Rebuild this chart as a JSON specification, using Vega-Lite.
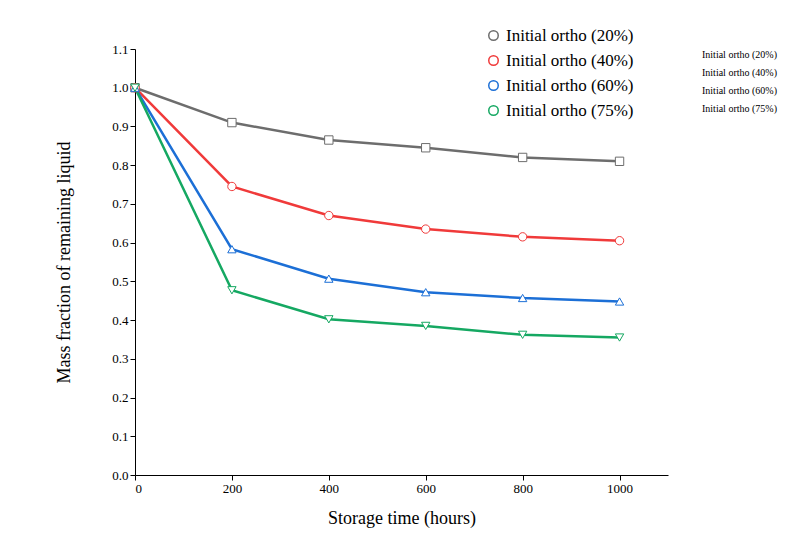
{
  "$schema": "https://vega.github.io/schema/vega-lite/v6.json",
  "width": 533,
  "height": 426,
  "autosize": "none",
  "padding": {"left": 135, "top": 49, "right": 135, "bottom": 80},
  "background": "white",
  "data": {"values": [
    {"t": 0, "s": "Initial ortho (20%)", "v": 1.0},
    {"t": 200, "s": "Initial ortho (20%)", "v": 0.91},
    {"t": 400, "s": "Initial ortho (20%)", "v": 0.865},
    {"t": 600, "s": "Initial ortho (20%)", "v": 0.845},
    {"t": 800, "s": "Initial ortho (20%)", "v": 0.82},
    {"t": 1000, "s": "Initial ortho (20%)", "v": 0.81},
    {"t": 0, "s": "Initial ortho (40%)", "v": 1.0},
    {"t": 200, "s": "Initial ortho (40%)", "v": 0.745},
    {"t": 400, "s": "Initial ortho (40%)", "v": 0.67},
    {"t": 600, "s": "Initial ortho (40%)", "v": 0.635},
    {"t": 800, "s": "Initial ortho (40%)", "v": 0.615},
    {"t": 1000, "s": "Initial ortho (40%)", "v": 0.605},
    {"t": 0, "s": "Initial ortho (60%)", "v": 1.0},
    {"t": 200, "s": "Initial ortho (60%)", "v": 0.583},
    {"t": 400, "s": "Initial ortho (60%)", "v": 0.507},
    {"t": 600, "s": "Initial ortho (60%)", "v": 0.472},
    {"t": 800, "s": "Initial ortho (60%)", "v": 0.457},
    {"t": 1000, "s": "Initial ortho (60%)", "v": 0.448},
    {"t": 0, "s": "Initial ortho (75%)", "v": 1.0},
    {"t": 200, "s": "Initial ortho (75%)", "v": 0.477},
    {"t": 400, "s": "Initial ortho (75%)", "v": 0.402},
    {"t": 600, "s": "Initial ortho (75%)", "v": 0.385},
    {"t": 800, "s": "Initial ortho (75%)", "v": 0.362},
    {"t": 1000, "s": "Initial ortho (75%)", "v": 0.355}
  ]},
  "mark": {"type": "line", "strokeWidth": 2.5, "point": {"filled": false, "fill": "white", "size": 70, "strokeWidth": 1}},
  "encoding": {
    "x": {"field": "t", "type": "quantitative", "title": "Storage time (hours)",
      "scale": {"domain": [0, 1100], "nice": false},
      "axis": {"values": [0, 200, 400, 600, 800, 1000], "format": "d", "grid": false, "titlePadding": 14}},
    "y": {"field": "v", "type": "quantitative", "title": "Mass fraction of remaining liquid",
      "scale": {"domain": [0, 1.1], "nice": false},
      "axis": {"values": [0, 0.1, 0.2, 0.3, 0.4, 0.5, 0.6, 0.7, 0.8, 0.9, 1.0, 1.1], "format": ".1f", "grid": false, "titlePadding": 38}},
    "color": {"field": "s", "type": "nominal", "title": null,
      "scale": {"range": ["#6d6d6d", "#f03a3a", "#1c6fd6", "#15a862"]},
      "legend": {"orient": "none", "legendX": 350, "legendY": -22, "labelFontSize": 17, "symbolSize": 90, "symbolStrokeWidth": 1.5, "rowPadding": 7, "labelLimit": 300}},
    "shape": {"field": "s", "type": "nominal", "title": null,
      "scale": {"range": ["square", "circle", "triangle-up", "triangle-down"]}}
  },
  "config": {
    "font": "Liberation Serif",
    "view": {"stroke": null},
    "axis": {"labelFontSize": 13, "titleFontSize": 18, "titleFontWeight": "normal", "domainColor": "black", "tickColor": "black", "labelColor": "black", "titleColor": "black", "tickSize": 5},
    "legend": {"labelColor": "black", "labelFont": "Liberation Serif"}
  }
}
